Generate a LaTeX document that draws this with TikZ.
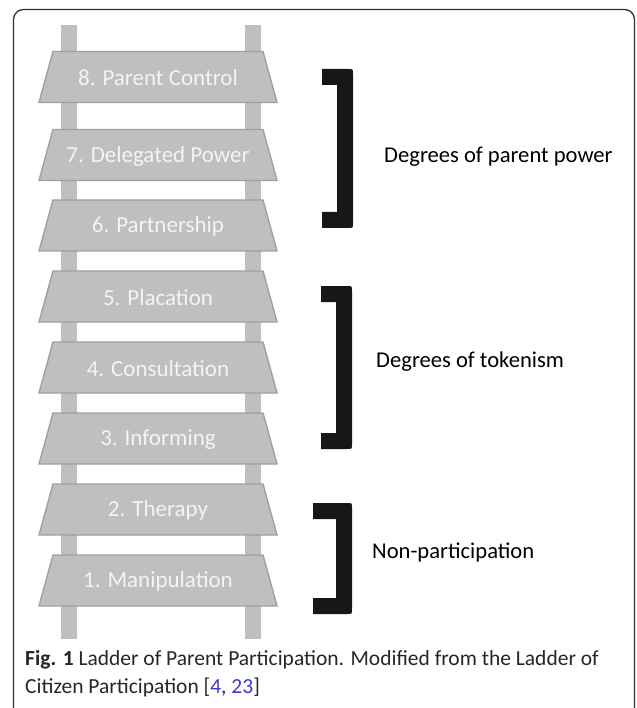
\documentclass[tikz,border=0pt]{standalone}
\usepackage{fontspec}
\setmainfont{Carlito}
\definecolor{railgray}{HTML}{BFBFBF}
\definecolor{stepfill}{HTML}{BFBFBF}
\definecolor{stepline}{HTML}{A0A0A0}
\definecolor{steptext}{HTML}{F4F4F4}
\definecolor{brk}{HTML}{171717}
\definecolor{framec}{HTML}{333333}
\definecolor{linkblue}{HTML}{3A3ACF}
\tikzset{
  steptxt/.style={text=steptext, font=\fontsize{23}{27}\selectfont, inner sep=0pt},
  grouptxt/.style={text=black, font=\fontsize{22.6}{27}\selectfont, anchor=west, inner sep=0pt},
  stepshape/.style={fill=stepfill, draw=stepline, line width=1.4pt, line join=miter},
  rail/.style={fill=railgray},
  bracketshape/.style={fill=brk},
}
\newcommand{\ladderstep}[3]{%
  \path[stepshape] (158-105,#1-25.5) -- (158+105,#1-25.5) -- (158+119,#1+25.5) -- (158-119,#1+25.5) -- cycle;
  \node[steptxt] (#2) at (158,#1+1) {#3};
}
\newcommand{\grpbracket}[4]{% x-left, y-top, y-bottom, x-right
  \path[bracketshape] (#1,#2) -- (#4-5,#2) .. controls (#4,#2) .. (#4,#2+5) -- (#4,#3-5) .. controls (#4,#3) .. (#4-5,#3) -- (#1,#3) -- (#1,#3-16) -- (#4-16,#3-16) -- (#4-16,#2+16) -- (#1,#2+16) -- cycle;
}
\begin{document}
\begin{tikzpicture}[x=1pt,y=-1pt]
\useasboundingbox (0,0) rectangle (636,708);
% frame
\draw[framec, line width=1.3pt, rounded corners=10pt] (13.5,9.5) rectangle (634.5,720);
% rails
\fill[rail] (61,25) rectangle (76.5,639);
\fill[rail] (245,25) rectangle (260.5,639);
% steps
\ladderstep{77}{s8}{8. Parent Control}
\ladderstep{155}{s7}{7. Delegated Power}
\ladderstep{225.5}{s6}{6. Partnership}
\ladderstep{296.5}{s5}{5. Placation}
\ladderstep{367.5}{s4}{4. Consultation}
\ladderstep{438.5}{s3}{3. Informing}
\ladderstep{509.5}{s2}{2. Therapy}
\ladderstep{580.5}{s1}{1. Manipulation}
% brackets
\grpbracket{322}{69}{228}{353}
\grpbracket{321}{286}{449}{352}
\grpbracket{313}{503}{614}{352}
% group labels
\node[grouptxt] (g1) at (384,157) {Degrees of parent power};
\node[grouptxt] (g2) at (376,362) {Degrees of tokenism};
\node[grouptxt] (g3) at (372,553) {Non-participation};
% caption
\node[anchor=north west, inner sep=0pt, align=left, font=\fontsize{21.5}{28}\selectfont, text=black!85] (cap) at (25,650)
  {\textbf{Fig. 1} Ladder of Parent Participation. Modified from the Ladder of\\Citizen Participation [\textcolor{linkblue}{4}, \textcolor{linkblue}{23}]};
\end{tikzpicture}
\end{document}
